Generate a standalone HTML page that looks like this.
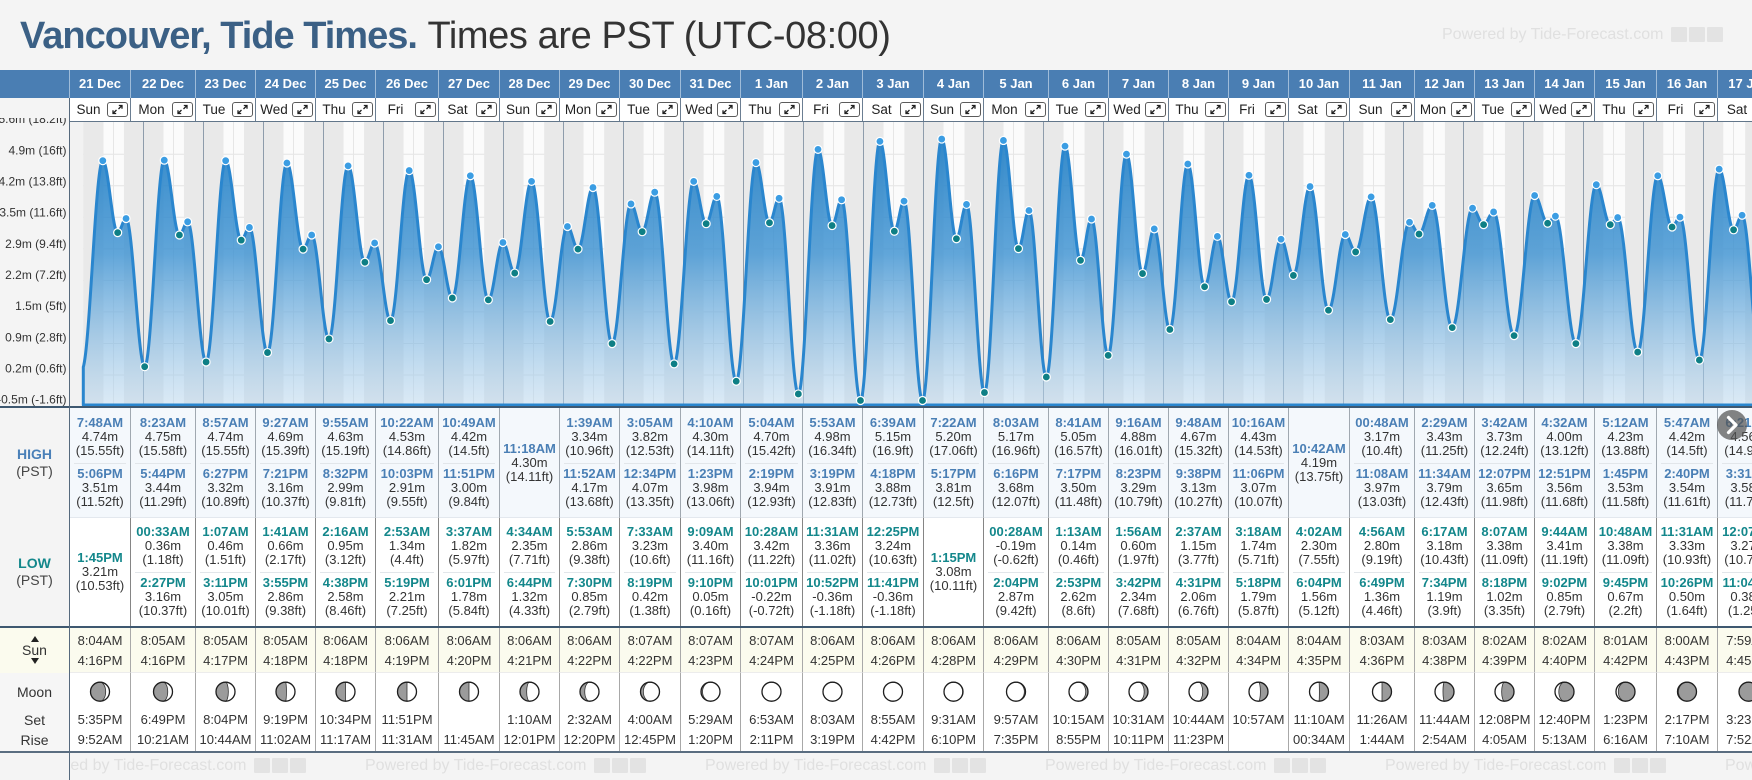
<!DOCTYPE html>
<html><head><meta charset="utf-8">
<style>
*{box-sizing:border-box}
body{margin:0;width:1752px;height:780px;overflow:hidden;background:#f4f4f4;font-family:"Liberation Sans",Arial,sans-serif;position:relative}
.a{position:absolute}
.c{position:absolute;top:0;height:780px}
.c>div{position:absolute;left:0;width:100%;text-align:center;white-space:nowrap}
.dt{top:70px;height:28px;line-height:27px;color:#fff;font-weight:bold;font-size:13px;border-left:1px solid #9fbcd9}
.wd{top:98px;height:23px;background:#fff;border-left:1px solid #6b7e92;display:flex;align-items:center}
.wd span{flex:1;font-size:13.5px;color:#222;text-align:center}
.wd i{width:21px;height:15px;border:1px solid #5b5b5b;border-radius:3px;margin-right:2px;display:block;flex:none}
.wd svg{display:block;width:19px;height:13px}
.hi{top:408px;height:109px;background:#f4f8fc;border-left:1px solid #a0a8b0;padding-top:8.3px}
.lo{top:517px;height:109px;background:#fff;border-left:1px solid #858585;border-top:1px solid #e3e8ee;padding-top:7.3px}
.one{display:flex;flex-direction:column;justify-content:center;padding-top:0!important}
p{margin:0;font-size:13px;line-height:14px;color:#333}
b{display:block}
.hi b{color:#4a7fb5}
.lo b{color:#13878b}
hr{border:0;height:1px;background:#e2e6ea;margin:5px 4px 2.4px}
.sn{top:627px;height:46px;background:#fbfbee;border-left:1px solid #a8a8a8;padding-top:3.7px;font-size:13px;line-height:20px;color:#333;border-bottom:1px solid #ececec}
.mn{top:673px;height:78px;background:#fff;border-left:1px solid #a8a8a8;padding-top:37px;font-size:13px;line-height:20px;color:#333}
.wm{position:absolute;top:0;line-height:28px;font-size:16px;color:#e0e0e0;white-space:nowrap}
.wm i{display:inline-block;width:16px;height:15px;background:#e3e3e3;margin-left:2px;vertical-align:middle;border-radius:1px}
.wm i:first-of-type{margin-left:8px}
.lab{position:absolute;left:0;width:69px;text-align:center;color:#333}
</style></head><body>
<svg width="0" height="0" style="position:absolute"><defs><symbol id="ex" viewBox="0 0 19 13"><path d="M5 10.5 L8.5 7 M5 7.3 V10.5 H8.2 M10.5 6 L14 2.5 M10.8 2.5 H14 V5.7" fill="none" stroke="#222" stroke-width="1.3"/></symbol></defs></svg>

<div class="a" style="left:20px;top:17px;font-size:38px;line-height:38px;white-space:nowrap"><span style="font-weight:bold;color:#3b6085;letter-spacing:-1px">Vancouver, Tide Times.</span> <span style="color:#333;letter-spacing:-0.4px">Times are PST (UTC-08:00)</span></div>
<div class="a" style="left:1442px;top:21px;width:320px;height:28px"><div class="wm" style="left:0">Powered by Tide-Forecast.com<i></i><i></i><i></i></div></div>

<div class="a" style="left:0;top:70px;width:1752px;height:28px;background:#4a7eb3"></div>
<div class="a" style="left:69px;top:98px;width:1683px;height:23px;background:#fff"></div>

<div class="lab" style="top:408px;height:109px;display:flex;flex-direction:column;justify-content:center;font-size:14px;line-height:17px"><b style="color:#4a80b8">HIGH</b><span style="color:#444">(PST)</span></div>
<div class="lab" style="top:517px;height:109px;display:flex;flex-direction:column;justify-content:center;font-size:14px;line-height:17px"><b style="color:#13878b">LOW</b><span style="color:#444">(PST)</span></div>
<div class="lab" style="top:627px;height:46px;background:#fbfbee">
<div class="a" style="left:30.5px;top:8.5px;width:0;height:0;border-left:4px solid transparent;border-right:4px solid transparent;border-bottom:6px solid #222"></div>
<div class="a" style="left:0;top:15px;width:69px;line-height:16px;font-size:14px">Sun</div>
<div class="a" style="left:30.5px;top:31px;width:0;height:0;border-left:4px solid transparent;border-right:4px solid transparent;border-top:6px solid #222"></div>
</div>
<div class="lab" style="top:673px;height:78px;background:#f6f6f6;font-size:14px">
<div class="a" style="left:0;top:10px;width:69px;line-height:18px">Moon</div>
<div class="a" style="left:0;top:37px;width:69px;line-height:20px">Set<br>Rise</div>
</div>

<div class="c" style="left:69px;width:61px"><div class="dt">21 Dec</div><div class="wd"><span>Sun</span><i><svg><use href="#ex"/></svg></i></div>
<div class="hi"><p><b>7:48AM</b>4.74m<br>(15.55ft)</p><hr><p><b>5:06PM</b>3.51m<br>(11.52ft)</p></div>
<div class="lo one"><p><b>1:45PM</b>3.21m<br>(10.53ft)</p></div>
<div class="sn">8:04AM<br>4:16PM</div><div class="mn">5:35PM<br>9:52AM</div></div>

<div class="c" style="left:130px;width:65px"><div class="dt">22 Dec</div><div class="wd"><span>Mon</span><i><svg><use href="#ex"/></svg></i></div>
<div class="hi"><p><b>8:23AM</b>4.75m<br>(15.58ft)</p><hr><p><b>5:44PM</b>3.44m<br>(11.29ft)</p></div>
<div class="lo"><p><b>00:33AM</b>0.36m<br>(1.18ft)</p><hr><p><b>2:27PM</b>3.16m<br>(10.37ft)</p></div>
<div class="sn">8:05AM<br>4:16PM</div><div class="mn">6:49PM<br>10:21AM</div></div>

<div class="c" style="left:195px;width:60px"><div class="dt">23 Dec</div><div class="wd"><span>Tue</span><i><svg><use href="#ex"/></svg></i></div>
<div class="hi"><p><b>8:57AM</b>4.74m<br>(15.55ft)</p><hr><p><b>6:27PM</b>3.32m<br>(10.89ft)</p></div>
<div class="lo"><p><b>1:07AM</b>0.46m<br>(1.51ft)</p><hr><p><b>3:11PM</b>3.05m<br>(10.01ft)</p></div>
<div class="sn">8:05AM<br>4:17PM</div><div class="mn">8:04PM<br>10:44AM</div></div>

<div class="c" style="left:255px;width:60px"><div class="dt">24 Dec</div><div class="wd"><span>Wed</span><i><svg><use href="#ex"/></svg></i></div>
<div class="hi"><p><b>9:27AM</b>4.69m<br>(15.39ft)</p><hr><p><b>7:21PM</b>3.16m<br>(10.37ft)</p></div>
<div class="lo"><p><b>1:41AM</b>0.66m<br>(2.17ft)</p><hr><p><b>3:55PM</b>2.86m<br>(9.38ft)</p></div>
<div class="sn">8:05AM<br>4:18PM</div><div class="mn">9:19PM<br>11:02AM</div></div>

<div class="c" style="left:315px;width:60px"><div class="dt">25 Dec</div><div class="wd"><span>Thu</span><i><svg><use href="#ex"/></svg></i></div>
<div class="hi"><p><b>9:55AM</b>4.63m<br>(15.19ft)</p><hr><p><b>8:32PM</b>2.99m<br>(9.81ft)</p></div>
<div class="lo"><p><b>2:16AM</b>0.95m<br>(3.12ft)</p><hr><p><b>4:38PM</b>2.58m<br>(8.46ft)</p></div>
<div class="sn">8:06AM<br>4:18PM</div><div class="mn">10:34PM<br>11:17AM</div></div>

<div class="c" style="left:375px;width:63px"><div class="dt">26 Dec</div><div class="wd"><span>Fri</span><i><svg><use href="#ex"/></svg></i></div>
<div class="hi"><p><b>10:22AM</b>4.53m<br>(14.86ft)</p><hr><p><b>10:03PM</b>2.91m<br>(9.55ft)</p></div>
<div class="lo"><p><b>2:53AM</b>1.34m<br>(4.4ft)</p><hr><p><b>5:19PM</b>2.21m<br>(7.25ft)</p></div>
<div class="sn">8:06AM<br>4:19PM</div><div class="mn">11:51PM<br>11:31AM</div></div>

<div class="c" style="left:438px;width:61px"><div class="dt">27 Dec</div><div class="wd"><span>Sat</span><i><svg><use href="#ex"/></svg></i></div>
<div class="hi"><p><b>10:49AM</b>4.42m<br>(14.5ft)</p><hr><p><b>11:51PM</b>3.00m<br>(9.84ft)</p></div>
<div class="lo"><p><b>3:37AM</b>1.82m<br>(5.97ft)</p><hr><p><b>6:01PM</b>1.78m<br>(5.84ft)</p></div>
<div class="sn">8:06AM<br>4:20PM</div><div class="mn">&nbsp;<br>11:45AM</div></div>

<div class="c" style="left:499px;width:60px"><div class="dt">28 Dec</div><div class="wd"><span>Sun</span><i><svg><use href="#ex"/></svg></i></div>
<div class="hi one"><p><b>11:18AM</b>4.30m<br>(14.11ft)</p></div>
<div class="lo"><p><b>4:34AM</b>2.35m<br>(7.71ft)</p><hr><p><b>6:44PM</b>1.32m<br>(4.33ft)</p></div>
<div class="sn">8:06AM<br>4:21PM</div><div class="mn">1:10AM<br>12:01PM</div></div>

<div class="c" style="left:559px;width:60px"><div class="dt">29 Dec</div><div class="wd"><span>Mon</span><i><svg><use href="#ex"/></svg></i></div>
<div class="hi"><p><b>1:39AM</b>3.34m<br>(10.96ft)</p><hr><p><b>11:52AM</b>4.17m<br>(13.68ft)</p></div>
<div class="lo"><p><b>5:53AM</b>2.86m<br>(9.38ft)</p><hr><p><b>7:30PM</b>0.85m<br>(2.79ft)</p></div>
<div class="sn">8:06AM<br>4:22PM</div><div class="mn">2:32AM<br>12:20PM</div></div>

<div class="c" style="left:619px;width:61px"><div class="dt">30 Dec</div><div class="wd"><span>Tue</span><i><svg><use href="#ex"/></svg></i></div>
<div class="hi"><p><b>3:05AM</b>3.82m<br>(12.53ft)</p><hr><p><b>12:34PM</b>4.07m<br>(13.35ft)</p></div>
<div class="lo"><p><b>7:33AM</b>3.23m<br>(10.6ft)</p><hr><p><b>8:19PM</b>0.42m<br>(1.38ft)</p></div>
<div class="sn">8:07AM<br>4:22PM</div><div class="mn">4:00AM<br>12:45PM</div></div>

<div class="c" style="left:680px;width:60px"><div class="dt">31 Dec</div><div class="wd"><span>Wed</span><i><svg><use href="#ex"/></svg></i></div>
<div class="hi"><p><b>4:10AM</b>4.30m<br>(14.11ft)</p><hr><p><b>1:23PM</b>3.98m<br>(13.06ft)</p></div>
<div class="lo"><p><b>9:09AM</b>3.40m<br>(11.16ft)</p><hr><p><b>9:10PM</b>0.05m<br>(0.16ft)</p></div>
<div class="sn">8:07AM<br>4:23PM</div><div class="mn">5:29AM<br>1:20PM</div></div>

<div class="c" style="left:740px;width:62px"><div class="dt">1 Jan</div><div class="wd"><span>Thu</span><i><svg><use href="#ex"/></svg></i></div>
<div class="hi"><p><b>5:04AM</b>4.70m<br>(15.42ft)</p><hr><p><b>2:19PM</b>3.94m<br>(12.93ft)</p></div>
<div class="lo"><p><b>10:28AM</b>3.42m<br>(11.22ft)</p><hr><p><b>10:01PM</b>-0.22m<br>(-0.72ft)</p></div>
<div class="sn">8:07AM<br>4:24PM</div><div class="mn">6:53AM<br>2:11PM</div></div>

<div class="c" style="left:802px;width:60px"><div class="dt">2 Jan</div><div class="wd"><span>Fri</span><i><svg><use href="#ex"/></svg></i></div>
<div class="hi"><p><b>5:53AM</b>4.98m<br>(16.34ft)</p><hr><p><b>3:19PM</b>3.91m<br>(12.83ft)</p></div>
<div class="lo"><p><b>11:31AM</b>3.36m<br>(11.02ft)</p><hr><p><b>10:52PM</b>-0.36m<br>(-1.18ft)</p></div>
<div class="sn">8:06AM<br>4:25PM</div><div class="mn">8:03AM<br>3:19PM</div></div>

<div class="c" style="left:862px;width:61px"><div class="dt">3 Jan</div><div class="wd"><span>Sat</span><i><svg><use href="#ex"/></svg></i></div>
<div class="hi"><p><b>6:39AM</b>5.15m<br>(16.9ft)</p><hr><p><b>4:18PM</b>3.88m<br>(12.73ft)</p></div>
<div class="lo"><p><b>12:25PM</b>3.24m<br>(10.63ft)</p><hr><p><b>11:41PM</b>-0.36m<br>(-1.18ft)</p></div>
<div class="sn">8:06AM<br>4:26PM</div><div class="mn">8:55AM<br>4:42PM</div></div>

<div class="c" style="left:923px;width:60px"><div class="dt">4 Jan</div><div class="wd"><span>Sun</span><i><svg><use href="#ex"/></svg></i></div>
<div class="hi"><p><b>7:22AM</b>5.20m<br>(17.06ft)</p><hr><p><b>5:17PM</b>3.81m<br>(12.5ft)</p></div>
<div class="lo one"><p><b>1:15PM</b>3.08m<br>(10.11ft)</p></div>
<div class="sn">8:06AM<br>4:28PM</div><div class="mn">9:31AM<br>6:10PM</div></div>

<div class="c" style="left:983px;width:65px"><div class="dt">5 Jan</div><div class="wd"><span>Mon</span><i><svg><use href="#ex"/></svg></i></div>
<div class="hi"><p><b>8:03AM</b>5.17m<br>(16.96ft)</p><hr><p><b>6:16PM</b>3.68m<br>(12.07ft)</p></div>
<div class="lo"><p><b>00:28AM</b>-0.19m<br>(-0.62ft)</p><hr><p><b>2:04PM</b>2.87m<br>(9.42ft)</p></div>
<div class="sn">8:06AM<br>4:29PM</div><div class="mn">9:57AM<br>7:35PM</div></div>

<div class="c" style="left:1048px;width:60px"><div class="dt">6 Jan</div><div class="wd"><span>Tue</span><i><svg><use href="#ex"/></svg></i></div>
<div class="hi"><p><b>8:41AM</b>5.05m<br>(16.57ft)</p><hr><p><b>7:17PM</b>3.50m<br>(11.48ft)</p></div>
<div class="lo"><p><b>1:13AM</b>0.14m<br>(0.46ft)</p><hr><p><b>2:53PM</b>2.62m<br>(8.6ft)</p></div>
<div class="sn">8:06AM<br>4:30PM</div><div class="mn">10:15AM<br>8:55PM</div></div>

<div class="c" style="left:1108px;width:60px"><div class="dt">7 Jan</div><div class="wd"><span>Wed</span><i><svg><use href="#ex"/></svg></i></div>
<div class="hi"><p><b>9:16AM</b>4.88m<br>(16.01ft)</p><hr><p><b>8:23PM</b>3.29m<br>(10.79ft)</p></div>
<div class="lo"><p><b>1:56AM</b>0.60m<br>(1.97ft)</p><hr><p><b>3:42PM</b>2.34m<br>(7.68ft)</p></div>
<div class="sn">8:05AM<br>4:31PM</div><div class="mn">10:31AM<br>10:11PM</div></div>

<div class="c" style="left:1168px;width:60px"><div class="dt">8 Jan</div><div class="wd"><span>Thu</span><i><svg><use href="#ex"/></svg></i></div>
<div class="hi"><p><b>9:48AM</b>4.67m<br>(15.32ft)</p><hr><p><b>9:38PM</b>3.13m<br>(10.27ft)</p></div>
<div class="lo"><p><b>2:37AM</b>1.15m<br>(3.77ft)</p><hr><p><b>4:31PM</b>2.06m<br>(6.76ft)</p></div>
<div class="sn">8:05AM<br>4:32PM</div><div class="mn">10:44AM<br>11:23PM</div></div>

<div class="c" style="left:1228px;width:60px"><div class="dt">9 Jan</div><div class="wd"><span>Fri</span><i><svg><use href="#ex"/></svg></i></div>
<div class="hi"><p><b>10:16AM</b>4.43m<br>(14.53ft)</p><hr><p><b>11:06PM</b>3.07m<br>(10.07ft)</p></div>
<div class="lo"><p><b>3:18AM</b>1.74m<br>(5.71ft)</p><hr><p><b>5:18PM</b>1.79m<br>(5.87ft)</p></div>
<div class="sn">8:04AM<br>4:34PM</div><div class="mn">10:57AM<br>&nbsp;</div></div>

<div class="c" style="left:1288px;width:61px"><div class="dt">10 Jan</div><div class="wd"><span>Sat</span><i><svg><use href="#ex"/></svg></i></div>
<div class="hi one"><p><b>10:42AM</b>4.19m<br>(13.75ft)</p></div>
<div class="lo"><p><b>4:02AM</b>2.30m<br>(7.55ft)</p><hr><p><b>6:04PM</b>1.56m<br>(5.12ft)</p></div>
<div class="sn">8:04AM<br>4:35PM</div><div class="mn">11:10AM<br>00:34AM</div></div>

<div class="c" style="left:1349px;width:65px"><div class="dt">11 Jan</div><div class="wd"><span>Sun</span><i><svg><use href="#ex"/></svg></i></div>
<div class="hi"><p><b>00:48AM</b>3.17m<br>(10.4ft)</p><hr><p><b>11:08AM</b>3.97m<br>(13.03ft)</p></div>
<div class="lo"><p><b>4:56AM</b>2.80m<br>(9.19ft)</p><hr><p><b>6:49PM</b>1.36m<br>(4.46ft)</p></div>
<div class="sn">8:03AM<br>4:36PM</div><div class="mn">11:26AM<br>1:44AM</div></div>

<div class="c" style="left:1414px;width:60px"><div class="dt">12 Jan</div><div class="wd"><span>Mon</span><i><svg><use href="#ex"/></svg></i></div>
<div class="hi"><p><b>2:29AM</b>3.43m<br>(11.25ft)</p><hr><p><b>11:34AM</b>3.79m<br>(12.43ft)</p></div>
<div class="lo"><p><b>6:17AM</b>3.18m<br>(10.43ft)</p><hr><p><b>7:34PM</b>1.19m<br>(3.9ft)</p></div>
<div class="sn">8:03AM<br>4:38PM</div><div class="mn">11:44AM<br>2:54AM</div></div>

<div class="c" style="left:1474px;width:60px"><div class="dt">13 Jan</div><div class="wd"><span>Tue</span><i><svg><use href="#ex"/></svg></i></div>
<div class="hi"><p><b>3:42AM</b>3.73m<br>(12.24ft)</p><hr><p><b>12:07PM</b>3.65m<br>(11.98ft)</p></div>
<div class="lo"><p><b>8:07AM</b>3.38m<br>(11.09ft)</p><hr><p><b>8:18PM</b>1.02m<br>(3.35ft)</p></div>
<div class="sn">8:02AM<br>4:39PM</div><div class="mn">12:08PM<br>4:05AM</div></div>

<div class="c" style="left:1534px;width:60px"><div class="dt">14 Jan</div><div class="wd"><span>Wed</span><i><svg><use href="#ex"/></svg></i></div>
<div class="hi"><p><b>4:32AM</b>4.00m<br>(13.12ft)</p><hr><p><b>12:51PM</b>3.56m<br>(11.68ft)</p></div>
<div class="lo"><p><b>9:44AM</b>3.41m<br>(11.19ft)</p><hr><p><b>9:02PM</b>0.85m<br>(2.79ft)</p></div>
<div class="sn">8:02AM<br>4:40PM</div><div class="mn">12:40PM<br>5:13AM</div></div>

<div class="c" style="left:1594px;width:62px"><div class="dt">15 Jan</div><div class="wd"><span>Thu</span><i><svg><use href="#ex"/></svg></i></div>
<div class="hi"><p><b>5:12AM</b>4.23m<br>(13.88ft)</p><hr><p><b>1:45PM</b>3.53m<br>(11.58ft)</p></div>
<div class="lo"><p><b>10:48AM</b>3.38m<br>(11.09ft)</p><hr><p><b>9:45PM</b>0.67m<br>(2.2ft)</p></div>
<div class="sn">8:01AM<br>4:42PM</div><div class="mn">1:23PM<br>6:16AM</div></div>

<div class="c" style="left:1656px;width:61px"><div class="dt">16 Jan</div><div class="wd"><span>Fri</span><i><svg><use href="#ex"/></svg></i></div>
<div class="hi"><p><b>5:47AM</b>4.42m<br>(14.5ft)</p><hr><p><b>2:40PM</b>3.54m<br>(11.61ft)</p></div>
<div class="lo"><p><b>11:31AM</b>3.33m<br>(10.93ft)</p><hr><p><b>10:26PM</b>0.50m<br>(1.64ft)</p></div>
<div class="sn">8:00AM<br>4:43PM</div><div class="mn">2:17PM<br>7:10AM</div></div>

<div class="c" style="left:1717px;width:62px"><div class="dt">17 Jan</div><div class="wd"><span>Sat</span><i><svg><use href="#ex"/></svg></i></div>
<div class="hi"><p><b>6:21AM</b>4.56m<br>(14.96ft)</p><hr><p><b>3:31PM</b>3.58m<br>(11.75ft)</p></div>
<div class="lo"><p><b>12:07PM</b>3.27m<br>(10.73ft)</p><hr><p><b>11:04PM</b>0.38m<br>(1.25ft)</p></div>
<div class="sn">7:59AM<br>4:45PM</div><div class="mn">3:23PM<br>7:52AM</div></div>

<svg id="ov" width="1752" height="780" style="position:absolute;left:0;top:0">
<defs>
<clipPath id="cc"><rect x="70" y="122" width="1682" height="285"/></clipPath>
<clipPath id="yc"><rect x="0" y="118" width="69" height="290"/></clipPath>
<linearGradient id="gf" gradientUnits="userSpaceOnUse" x1="0" y1="130" x2="0" y2="406">
<stop offset="0" stop-color="#1e7dc4" stop-opacity="0.92"/>
<stop offset="0.45" stop-color="#3f93d2" stop-opacity="0.82"/>
<stop offset="1" stop-color="#bcd9f0" stop-opacity="0.5"/>
</linearGradient>
</defs>
<g id="chart" clip-path="url(#cc)"></g>
<g clip-path="url(#yc)" font-size="12" fill="#333" text-anchor="end" font-family="Liberation Sans, Arial, sans-serif">
<text x="66.5" y="123.2">5.6m (18.2ft)</text>
<text x="66.5" y="154.3">4.9m (16ft)</text>
<text x="66.5" y="185.5">4.2m (13.8ft)</text>
<text x="66.5" y="216.6">3.5m (11.6ft)</text>
<text x="66.5" y="247.8">2.9m (9.4ft)</text>
<text x="66.5" y="279">2.2m (7.2ft)</text>
<text x="66.5" y="310.1">1.5m (5ft)</text>
<text x="66.5" y="341.3">0.9m (2.8ft)</text>
<text x="66.5" y="372.5">0.2m (0.6ft)</text>
<text x="66.5" y="403.6">-0.5m (-1.6ft)</text>
</g>
<g id="moons"></g>
<circle cx="1732" cy="425" r="15" fill="#555" fill-opacity="0.72"/>
<path d="M1728.5 417.5 L1736 425 L1728.5 432.5" fill="none" stroke="#fff" stroke-width="3.2" stroke-linecap="round" stroke-linejoin="round"/>
</svg>

<div class="a" style="left:69px;top:121px;width:1683px;height:1px;background:#62768a"></div>
<div class="a" style="left:0;top:406px;width:1752px;height:2px;background:#3e5870"></div>
<div class="a" style="left:0;top:625.5px;width:1752px;height:2px;background:#3e5870"></div>
<div class="a" style="left:0;top:751px;width:1752px;height:1.5px;background:#5a6d80"></div>
<div class="a" style="left:69px;top:98px;width:1px;height:682px;background:#56697d"></div>

<div class="a" style="left:70px;top:752px;width:1682px;height:28px;overflow:hidden">
<div class="wm" style="left:-45px">Powered by Tide-Forecast.com<i></i><i></i><i></i></div>
<div class="wm" style="left:295px">Powered by Tide-Forecast.com<i></i><i></i><i></i></div>
<div class="wm" style="left:635px">Powered by Tide-Forecast.com<i></i><i></i><i></i></div>
<div class="wm" style="left:975px">Powered by Tide-Forecast.com<i></i><i></i><i></i></div>
<div class="wm" style="left:1315px">Powered by Tide-Forecast.com<i></i><i></i><i></i></div>
<div class="wm" style="left:1655px">Powered by Tide-Forecast.com<i></i><i></i><i></i></div>
</div>

<script>
(function(){
var NS='http://www.w3.org/2000/svg';
function el(t,a,p){var e=document.createElementNS(NS,t);for(var k in a)e.setAttribute(k,a[k]);p.appendChild(e);return e;}
function X(d){return 83.3+60*d;}
function Y(m){return 383.6-47.03*m;}
var g=document.getElementById('chart');
el('rect',{x:69,y:121,width:1690,height:290,fill:'#fbfbfb'},g);
el('rect',{x:69,y:121,width:14.3,height:290,fill:'#f2f2f2'},g);
[375.0,343.5,311.9,280.4,248.9,217.3,185.8,154.2].forEach(function(y){el('line',{x1:83,x2:1752,y1:y,y2:y,stroke:'#e4e4e4','stroke-width':1},g);});
for(var k=0;k<28;k++){var nx=Math.round(X(k+.5))+0.5;el('line',{x1:nx,x2:nx,y1:121,y2:407,stroke:'#e6e6e6'},g);}
var R=[484,485,485,485,486,486,486,486,486,487,487,487,486,486,486,486,486,485,485,484,484,483,483,482,482,481,480,479];
var S=[976,976,977,978,978,979,980,981,982,982,983,984,985,986,988,989,990,991,992,994,995,996,998,999,1000,1002,1003,1005];
for(k=0;k<28;k++){
 el('rect',{x:X(k),y:121,width:60*R[k]/1440,height:290,fill:'#e9e9e9'},g);
 var s=X(k+S[k]/1440);el('rect',{x:s,y:121,width:X(k+1)-s,height:290,fill:'#e9e9e9'},g);
}
for(k=1;k<=28;k++){var lx=Math.round(X(k))+0.5;el('line',{x1:lx,x2:lx,y1:121,y2:407,stroke:'#8e9cab','stroke-width':1},g);}
var EV="-1 23:25 0.30 L|0 7:48 4.74 H|0 13:45 3.21 L|0 17:06 3.51 H|1 0:33 0.36 L|1 8:23 4.75 H|1 14:27 3.16 L|1 17:44 3.44 H|2 1:07 0.46 L|2 8:57 4.74 H|2 15:11 3.05 L|2 18:27 3.32 H|3 1:41 0.66 L|3 9:27 4.69 H|3 15:55 2.86 L|3 19:21 3.16 H|4 2:16 0.95 L|4 9:55 4.63 H|4 16:38 2.58 L|4 20:32 2.99 H|5 2:53 1.34 L|5 10:22 4.53 H|5 17:19 2.21 L|5 22:03 2.91 H|6 3:37 1.82 L|6 10:49 4.42 H|6 18:01 1.78 L|6 23:51 3.00 H|7 4:34 2.35 L|7 11:18 4.30 H|7 18:44 1.32 L|8 1:39 3.34 H|8 5:53 2.86 L|8 11:52 4.17 H|8 19:30 0.85 L|9 3:05 3.82 H|9 7:33 3.23 L|9 12:34 4.07 H|9 20:19 0.42 L|10 4:10 4.30 H|10 9:09 3.40 L|10 13:23 3.98 H|10 21:10 0.05 L|11 5:04 4.70 H|11 10:28 3.42 L|11 14:19 3.94 H|11 22:01 -0.22 L|12 5:53 4.98 H|12 11:31 3.36 L|12 15:19 3.91 H|12 22:52 -0.36 L|13 6:39 5.15 H|13 12:25 3.24 L|13 16:18 3.88 H|13 23:41 -0.36 L|14 7:22 5.20 H|14 13:15 3.08 L|14 17:17 3.81 H|15 0:28 -0.19 L|15 8:03 5.17 H|15 14:04 2.87 L|15 18:16 3.68 H|16 1:13 0.14 L|16 8:41 5.05 H|16 14:53 2.62 L|16 19:17 3.50 H|17 1:56 0.60 L|17 9:16 4.88 H|17 15:42 2.34 L|17 20:23 3.29 H|18 2:37 1.15 L|18 9:48 4.67 H|18 16:31 2.06 L|18 21:38 3.13 H|19 3:18 1.74 L|19 10:16 4.43 H|19 17:18 1.79 L|19 23:06 3.07 H|20 4:02 2.30 L|20 10:42 4.19 H|20 18:04 1.56 L|21 0:48 3.17 H|21 4:56 2.80 L|21 11:08 3.97 H|21 18:49 1.36 L|22 2:29 3.43 H|22 6:17 3.18 L|22 11:34 3.79 H|22 19:34 1.19 L|23 3:42 3.73 H|23 8:07 3.38 L|23 12:07 3.65 H|23 20:18 1.02 L|24 4:32 4.00 H|24 9:44 3.41 L|24 12:51 3.56 H|24 21:02 0.85 L|25 5:12 4.23 H|25 10:48 3.38 L|25 13:45 3.53 H|25 21:45 0.67 L|26 5:47 4.42 H|26 11:31 3.33 L|26 14:40 3.54 H|26 22:26 0.50 L|27 6:21 4.56 H|27 12:07 3.27 L|27 15:31 3.58 H|27 23:04 0.38 L|28 6:55 4.65 H";
var E=EV.split('|').map(function(l){var p=l.split(' ');var hm=p[1].split(':');return {t:(+p[0])+((+hm[0])+(+hm[1])/60)/24,h:+p[2],y:p[3]};});
function H(t){for(var i=0;i<E.length-1;i++){if(t>=E[i].t&&t<=E[i+1].t){var f=(t-E[i].t)/(E[i+1].t-E[i].t);return E[i].h+(E[i+1].h-E[i].h)*(1-Math.cos(Math.PI*f))/2;}}return E[E.length-1].h;}
var d='M83.3,405';
for(var t=0;t<=27.85;t+=0.004){d+=' L'+X(t).toFixed(2)+','+Y(H(t)).toFixed(2);}
d+=' L1765,405 Z';
el('path',{d:d,fill:'url(#gf)',stroke:'#2a86ce','stroke-width':3,'stroke-linejoin':'round'},g);
E.forEach(function(e){if(e.t<0||e.t>27.9)return;el('circle',{cx:X(e.t),cy:Y(e.h),r:4,fill:e.y=='H'?'#3b9de3':'#0e7f85',stroke:'#fff','stroke-width':1.2},g);});
var cols=[[69,61],[130,65],[195,60],[255,60],[315,60],[375,63],[438,61],[499,60],[559,60],[619,61],[680,60],[740,62],[802,60],[862,61],[923,60],[983,65],[1048,60],[1108,60],[1168,60],[1228,60],[1288,61],[1349,65],[1414,60],[1474,60],[1534,60],[1594,62],[1656,61],[1717,62]];
/* waxing: white fraction from right (positive); waning: white fraction from left (negative) */
var PH=[0.2,0.25,0.35,0.45,0.5,0.5,0.5,0.65,0.75,0.85,0.92,1,1,1,-0.98,-0.94,-0.88,-0.8,-0.72,-0.6,-0.52,-0.5,-0.42,-0.35,-0.2,-0.12,-0.05,0];
var mg=document.getElementById('moons');
cols.forEach(function(c,i){
 var cx=c[0]+(c[1]+1)/2,cy=691.7,r=9.5,p,v=PH[i];
 el('circle',{cx:cx,cy:cy,r:r,fill:'#9b9b9b'},mg);
 if(v>0){var w=v;var rx=Math.abs(r*(1-2*w));var sw=(w<0.5)?0:1;
  p='M'+cx+','+(cy-r)+' A'+r+','+r+' 0 0 1 '+cx+','+(cy+r)+' A'+rx+','+r+' 0 0 '+sw+' '+cx+','+(cy-r)+' Z';}
 else if(v<0){var ww=-v;var rx2=Math.abs(r*(1-2*ww));var sw2=(ww<0.5)?1:0;
  p='M'+cx+','+(cy-r)+' A'+r+','+r+' 0 0 0 '+cx+','+(cy+r)+' A'+rx2+','+r+' 0 0 '+sw2+' '+cx+','+(cy-r)+' Z';}
 if(p)el('path',{d:p,fill:'#fff',stroke:'#333','stroke-width':0.8},mg);
 el('circle',{cx:cx,cy:cy,r:r,fill:'none',stroke:'#1e1e1e','stroke-width':1.3},mg);
});
})();
</script>
</body></html>
